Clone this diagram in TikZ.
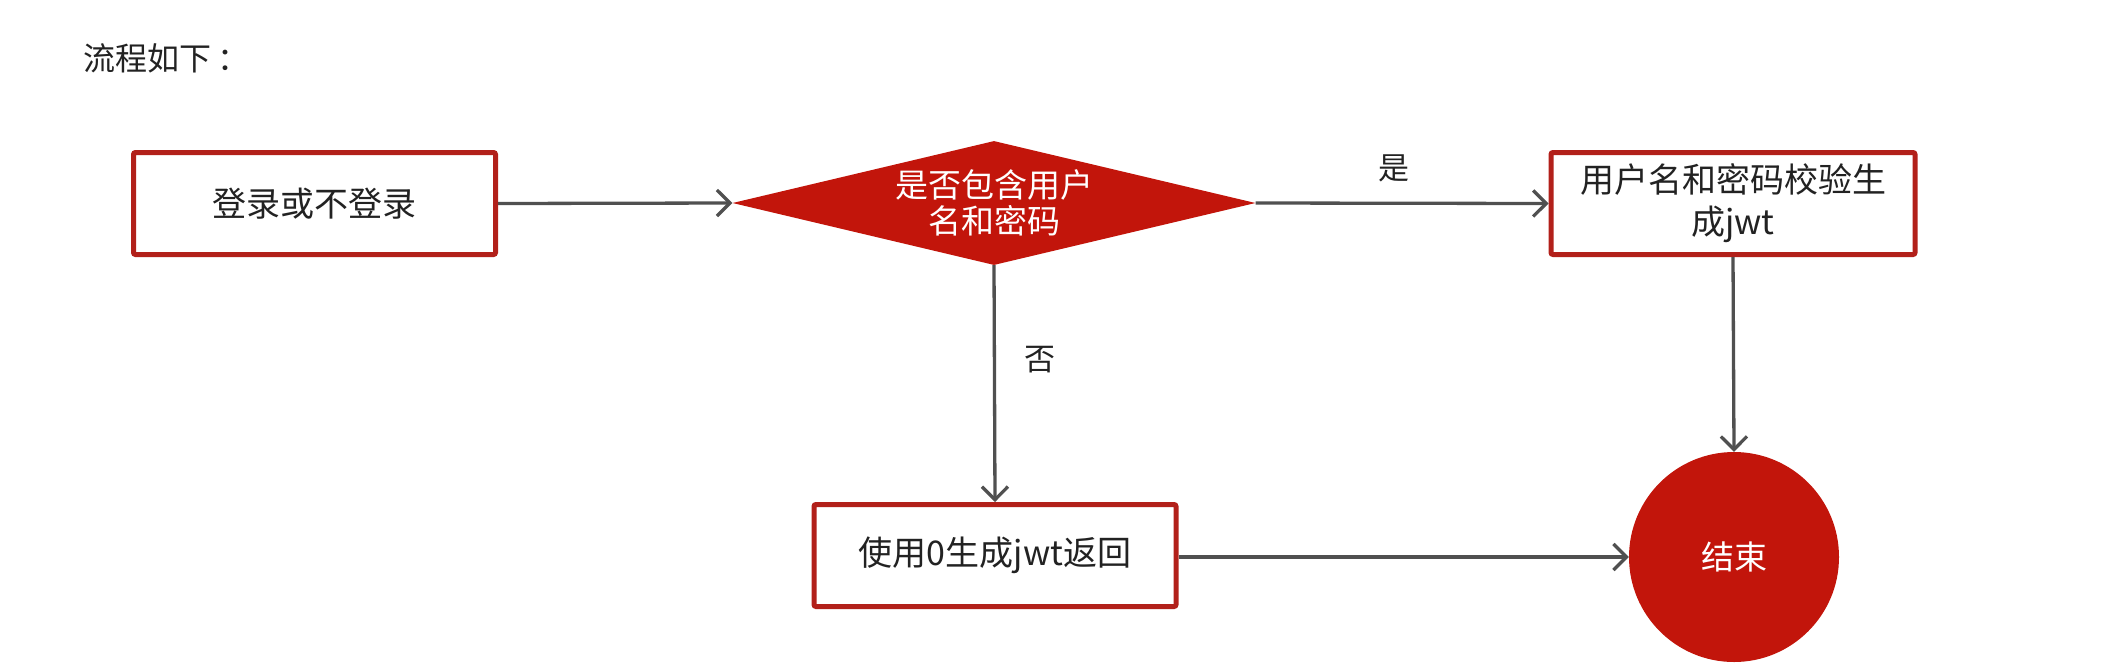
\documentclass[tikz,border=0pt]{standalone}
\usepackage{fontspec}
\setmainfont{Noto Sans CJK SC}
\usetikzlibrary{shapes.geometric,arrows.meta}
\definecolor{boxred}{HTML}{B2201A}
\definecolor{fillred}{HTML}{C2150B}
\definecolor{linegray}{HTML}{505050}
\definecolor{textdark}{HTML}{222222}
\tikzset{
  procbox/.style={draw=boxred,line width=5pt,fill=white,rounded corners=2pt,
    minimum width=362pt,minimum height=102pt,inner sep=0pt,align=center,
    text=textdark,font=\fontsize{34}{42}\selectfont},
  decide/.style={diamond,fill=fillred,aspect=4.2,inner sep=0pt,
    minimum width=523pt,minimum height=124pt,align=center,text=white,
    font=\fontsize{33}{36}\selectfont},
  endnode/.style={circle,fill=fillred,minimum size=210pt,inner sep=0pt,
    text=white,font=\fontsize{33}{40}\selectfont},
  flow/.style={draw=linegray,line width=3.3pt,
    -{Straight Barb[length=13pt,width=26pt,line width=3.3pt]}},
  lbl/.style={text=textdark,font=\fontsize{31}{36}\selectfont},
}
\begin{document}
\begin{tikzpicture}[x=1pt,y=-1pt]
\useasboundingbox (0,0) rectangle (2120,665);
\node[lbl,anchor=west,font=\fontsize{32}{36}\selectfont] (title) at (80,58) {流程如下\kern6pt：};
\node[procbox] (login) at (314.5,203.5) {登录或不登录};
\node[decide] (check) at (994,203) {是否包含用户\\名和密码};
\node[procbox,minimum width=364pt] (verify) at (1733,203.5) {用户名和密码校验生\\成jwt};
\node[procbox] (zero) at (995,555.5) {使用0生成jwt返回};
\node[endnode] (finish) at (1734,557) {结束};
\draw[flow] (login.east) -- (check.west);
\draw[flow] (check.east) -- (verify.west);
\draw[flow] (check.south) -- (zero.north);
\draw[flow] (verify.south) -- (finish.north);
\draw[flow] (zero.east |- finish.west) -- (finish.west);
\node[lbl] (yes) at (1394,168) {是};
\node[lbl] (no) at (1040,360) {否};
\end{tikzpicture}
\end{document}
